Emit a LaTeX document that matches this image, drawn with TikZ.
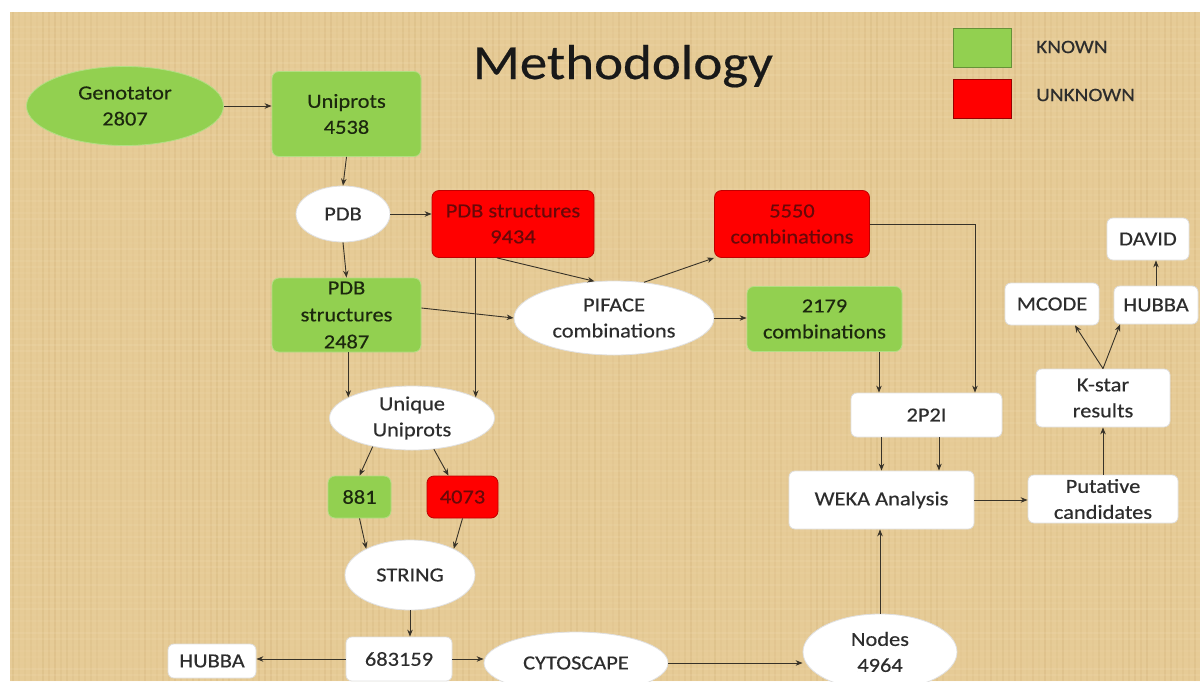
\documentclass[tikz,border=0pt]{standalone}
\usepackage{fontspec}
\setmainfont{Carlito}[FakeStretch=1.12,FakeBold=0.4]
\usetikzlibrary{shapes.geometric,arrows.meta,calc}
\definecolor{bg}{RGB}{230,203,150}
\definecolor{bgdark}{RGB}{196,160,100}
\definecolor{bglight}{RGB}{244,226,188}
\definecolor{kgreen}{RGB}{146,208,80}
\definecolor{kred}{RGB}{255,0,0}
\definecolor{gtext}{RGB}{28,40,14}
\definecolor{rtext}{RGB}{105,8,8}
\definecolor{wtext}{RGB}{45,45,45}
\definecolor{lin}{RGB}{55,50,40}
\begin{document}
\begin{tikzpicture}[x=1pt,y=-1pt,
  every node/.style={font=\fontsize{20}{26}\selectfont, align=center, inner sep=0pt},
  sz/.style 2 args={minimum width=#1pt, minimum height=#2pt},
  gbox/.style={rectangle, rounded corners=7pt, fill=kgreen, draw=kgreen!70!white, line width=0.8pt, text=gtext},
  rbox/.style={rectangle, rounded corners=7pt, fill=kred, draw=kred!75!black, line width=0.8pt, text=rtext},
  wbox/.style={rectangle, rounded corners=6pt, fill=white, draw=black!12, line width=0.8pt, text=wtext},
  well/.style={ellipse, fill=white, draw=black!12, line width=0.8pt, text=wtext},
  gell/.style={ellipse, fill=kgreen, draw=kgreen!70!white, line width=0.8pt, text=gtext},
  arr/.style={draw=lin, line width=0.9pt, -{Stealth[length=7pt,width=5.5pt]}},
  lntext/.style={font=\fontsize{19}{22}\selectfont, text=wtext, anchor=west},
]
\useasboundingbox (0,0) rectangle (1200,681);
\clip (0,0) rectangle (1200,681);
\fill[white] (0,0) rectangle (1200,681);
\fill[bg] (10,12) rectangle (1200,681);
% woven texture
\pgfmathsetseed{7}
\foreach \i in {0,...,198}{
  \pgfmathsetmacro{\o}{0.04+0.16*rnd}
  \draw[bgdark, opacity=\o, line width=1.3pt] (13+\i*6, 12) -- (13+\i*6, 681);
}
\foreach \i in {0,...,111}{
  \pgfmathsetmacro{\o}{0.04+0.14*rnd}
  \draw[bglight, opacity=\o, line width=1.6pt] (10, 15+\i*6) -- (1200, 15+\i*6);
}

% title and legend
\node[font=\fontsize{49}{55}\selectfont, text=black!90, anchor=base] (title) at (623,79) {Methodology};
\node[rectangle, fill=kgreen, draw=kgreen!70!black, line width=0.6pt, sz={58}{39}] (legG) at (982,47.5) {};
\node[rectangle, fill=kred, draw=kred!60!black, line width=0.6pt, sz={58}{39}] (legR) at (982,98.5) {};
\node[lntext] (legGt) at (1036,47) {KNOWN};
\node[lntext] (legRt) at (1036,95) {UNKNOWN};

% nodes
\node[gell, sz={197}{79}] (geno) at (125,106) {Genotator\\2807};
\node[gbox, sz={149}{85}] (uni) at (346.5,114) {Uniprots\\4538};
\node[well, sz={94}{56}] (pdb) at (343,214) {PDB};
\node[rbox, sz={162}{67}] (s9434) at (513,224) {PDB structures\\9434};
\node[rbox, sz={155}{67}] (c5550) at (792,224) {5550\\combinations};
\node[gbox, sz={149}{74}, font=\fontsize{20}{27}\selectfont] (s2487) at (346.5,315) {PDB\\structures\\2487};
\node[well, sz={200}{74}] (piface) at (614,318) {PIFACE\\combinations};
\node[gbox, sz={155}{65}] (c2179) at (824.5,319) {2179\\combinations};
\node[wbox, sz={82}{42}] (david) at (1148,239) {DAVID};
\node[wbox, sz={94}{42}] (mcode) at (1052,304) {MCODE};
\node[wbox, sz={84}{38}] (hubbaR) at (1156,305) {HUBBA};
\node[wbox, sz={134}{58}] (kstar) at (1103,398) {K-star\\results};
\node[wbox, sz={151}{44}] (p2i) at (926.5,415) {2P2I};
\node[well, sz={165}{64}] (unique) at (412,418) {Unique\\Uniprots};
\node[gbox, sz={63}{42}] (n881) at (359.5,497) {881};
\node[rbox, sz={71}{42}] (n4073) at (462.5,497) {4073};
\node[wbox, sz={185}{58}] (weka) at (881.5,500) {WEKA Analysis};
\node[wbox, sz={150}{48}] (put) at (1103,499) {Putative\\candidates};
\node[well, sz={130}{70}] (string) at (410,575) {STRING};
\node[wbox, sz={106}{44}] (n683) at (399,659) {683159};
\node[wbox, sz={88}{34}] (hubbaL) at (212,661) {HUBBA};
\node[well, sz={184}{62}] (cyto) at (576,663) {CYTOSCAPE};
\node[well, sz={154}{76}] (nodes) at (880,652) {Nodes\\4964};

% helper coordinates
\coordinate (p2iL) at ([xshift=-47.5pt]p2i.north);
\coordinate (p2iR) at ([xshift=48.5pt]p2i.north);
\coordinate (wekaR) at ([xshift=57.5pt]weka.north);

% connectors
\draw[arr] (geno.east) -- (geno.east -| uni.west);
\draw[arr] (uni.south) -- (pdb.north);
\draw[arr] (pdb.east) -- (pdb.east -| s9434.west);
\draw[arr] (pdb.south) -- (s2487.north);
\draw[arr] ([xshift=-16pt]s9434.south) -- (piface.118);
\draw[arr] (s9434.south -| unique.18) -- (unique.18);
\draw[arr] ([yshift=7pt]s2487.east) -- (piface.west);
\draw[arr] (s2487.south -| unique.162) -- (unique.162);
\draw[arr] (piface.50) -- (c5550.south west);
\draw[arr] (piface.east) -- (piface.east -| c2179.west);
\draw[arr] (c5550.east) -| (p2iR);
\draw[arr] (c2179.south -| p2iL) -- (p2iL);
\draw[arr] (p2i.south -| weka.north) -- (weka.north);
\draw[arr] (p2i.south -| wekaR) -- (wekaR);
\draw[arr] (weka.east) -- (weka.east -| put.west);
\draw[arr] (put.north) -- (kstar.south);
\draw[arr] (kstar.north) -- ([xshift=23pt]mcode.south);
\draw[arr] (kstar.north) -- ([xshift=-36pt]hubbaR.south);
\draw[arr] (hubbaR.north) -- (hubbaR.north |- david.south);
\draw[arr] (unique.216) -- (n881.north);
\draw[arr] (unique.305) -- ([xshift=-14pt]n4073.north);
\draw[arr] (n881.south) -- (string.149);
\draw[arr] (n4073.south) -- (string.31);
\draw[arr] (string.south) -- (string.south |- n683.north);
\draw[arr] (n683.west) -- (n683.west -| hubbaL.east);
\draw[arr] (n683.east) -- (n683.east -| cyto.west);
\draw[arr] (cyto.east) -- (cyto.east -| nodes.west);
\draw[arr] (nodes.north) -- (nodes.north |- weka.south);
\end{tikzpicture}
\end{document}
